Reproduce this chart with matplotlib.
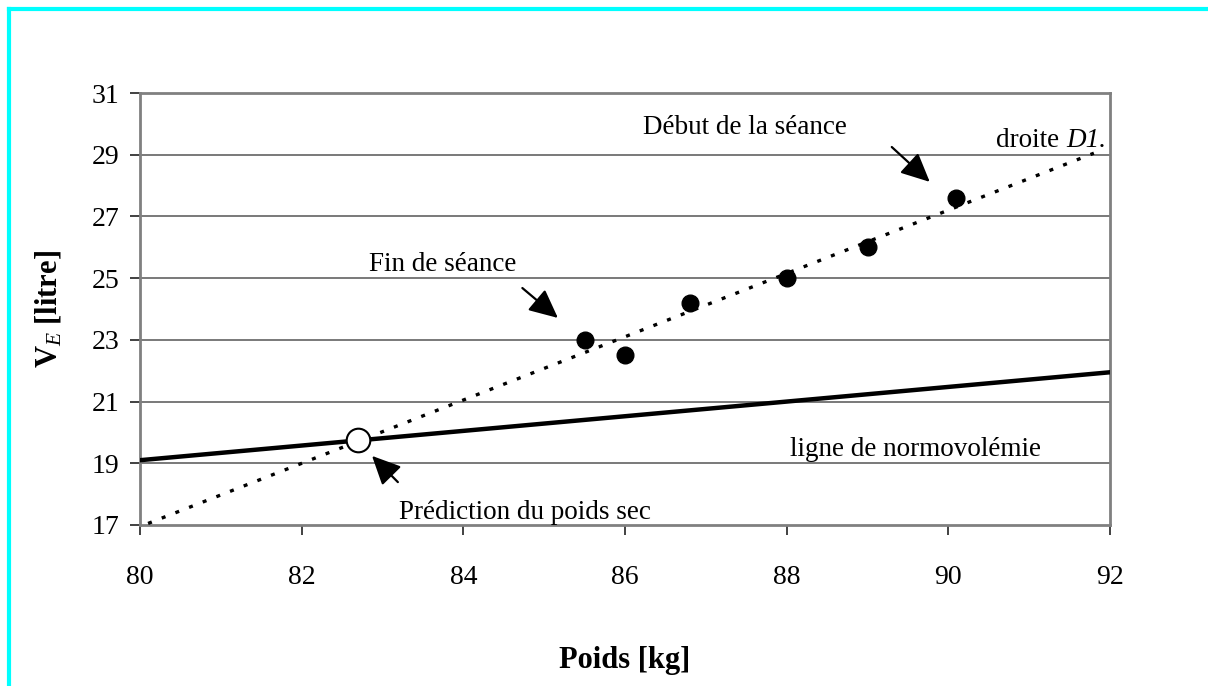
import matplotlib.pyplot as plt
from matplotlib.lines import Line2D

plt.rcParams['font.family'] = ['Liberation Serif', 'DejaVu Serif']
plt.rcParams['mathtext.fontset'] = 'custom'
plt.rcParams['mathtext.rm'] = 'Liberation Serif'
plt.rcParams['mathtext.it'] = 'Liberation Serif:italic'
plt.rcParams['mathtext.bf'] = 'Liberation Serif:bold'

# measured points (poids, volume)
poids = [85.5, 86.0, 86.8, 88.0, 89.0, 90.1]
volume = [23.0, 22.5, 24.2, 25.0, 26.0, 27.6]

# droite D1 and normovolemia line end points
d1_x = [80.1, 91.8]
d1_y = [17.05, 29.05]
normo_x = [80.0, 92.0]
normo_y = [19.1, 21.95]

# predicted dry weight
pred_x = 82.7
pred_y = 19.75

xticks = [80, 82, 84, 86, 88, 90, 92]
yticks = [17, 19, 21, 23, 25, 27, 29, 31]

fig = plt.figure(figsize=(12.08, 6.86), dpi=100)
ax = fig.add_axes([0.1159, 0.2347, 0.803, 0.6297])

for y in yticks[1:-1]:
    ax.axhline(y, color='#555555', lw=1.1, zorder=1)

ax.plot(normo_x, normo_y, color='black', lw=3.2, zorder=3)
ax.plot(d1_x, d1_y, color='black', lw=2.4, linestyle=(0, (1.2, 3.2)), zorder=3)
ax.plot(poids, volume, 'o', color='black', markersize=12, zorder=4)
ax.plot([pred_x], [pred_y], 'o', markerfacecolor='white', markeredgecolor='black',
        markeredgewidth=1.5, markersize=17, zorder=5)

arrow = dict(arrowstyle='-|>,head_length=1.1,head_width=0.52', color='black', lw=1.6,
             mutation_scale=16, shrinkA=0, shrinkB=0)
ax.annotate('', xy=(89.77, 28.12), xytext=(89.30, 29.25), arrowprops=arrow)
ax.annotate('', xy=(85.17, 23.71), xytext=(84.73, 24.68), arrowprops=arrow)
ax.annotate('', xy=(82.87, 19.24), xytext=(83.19, 18.39), arrowprops=arrow)

fs = 19.5
ax.text(87.48, 29.87, 'Début de la séance', fontsize=fs, ha='center', va='center')
ax.text(91.95, 29.45, 'D1.', fontsize=fs, fontstyle='italic', ha='right', va='center')
ax.annotate('droite ', xy=(91.95, 29.45), xytext=(-29, 0), textcoords='offset points',
            fontsize=fs, ha='right', va='center')
ax.text(83.74, 25.43, 'Fin de séance', fontsize=fs, ha='center', va='center')
ax.text(84.76, 17.42, 'Prédiction du poids sec', fontsize=fs, ha='center', va='center')
ax.text(89.59, 19.46, 'ligne de normovolémie', fontsize=fs, ha='center', va='center')

ax.set_xlim(80, 92)
ax.set_ylim(17, 31)
ax.set_xticks(xticks)
ax.set_yticks(yticks)
ax.tick_params(axis='both', labelsize=20, color='#333333', length=7, width=1.3, direction='out')
ax.tick_params(axis='x', pad=22)
ax.tick_params(axis='y', pad=8)
for s in ax.spines.values():
    s.set_color('#808080')
    s.set_linewidth(2)

ax.set_xlabel('Poids [kg]', fontsize=22, fontweight='bold', labelpad=40)
ax.set_ylabel(r'$\mathbf{V}_{E}$ [litre]', fontsize=22, fontweight='bold', labelpad=20)

# cyan frame on top and left
fig.add_artist(Line2D([9 / 1208, 9 / 1208], [0, 1 - 9 / 686], color='cyan', lw=3))
fig.add_artist(Line2D([9 / 1208, 1], [1 - 9 / 686, 1 - 9 / 686], color='cyan', lw=3))

fig.savefig('out.png', dpi=100)
